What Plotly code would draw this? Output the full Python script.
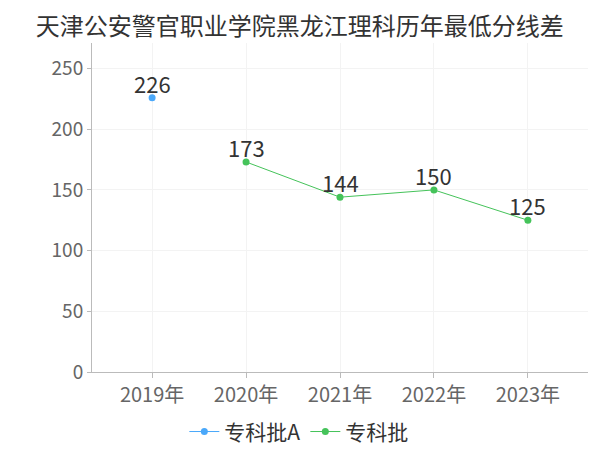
import plotly.graph_objects as go

years = ["2019年", "2020年", "2021年", "2022年", "2023年"]
series_a_name = "专科批A"
series_a_x = ["2019年"]
series_a_y = [226]
series_b_name = "专科批"
series_b_x = ["2020年", "2021年", "2022年", "2023年"]
series_b_y = [173, 144, 150, 125]
title = "天津公安警官职业学院黑龙江理科历年最低分线差"

font_family = "Noto Sans CJK SC, Noto Sans, sans-serif"
blue = "#4aa8fa"
green = "#45c35a"

fig = go.Figure()
fig.add_trace(go.Scatter(
    x=series_a_x, y=series_a_y, name=series_a_name, mode="lines+markers",
    line=dict(color=blue, width=1), marker=dict(size=7, color=blue),
))
fig.add_trace(go.Scatter(
    x=series_b_x, y=series_b_y, name=series_b_name, mode="lines+markers",
    line=dict(color=green, width=1), marker=dict(size=7, color=green),
))

for xs, ys in ((series_a_x, series_a_y), (series_b_x, series_b_y)):
    for xv, yv in zip(xs, ys):
        fig.add_annotation(x=xv, y=yv, text=str(yv), showarrow=False,
                           xanchor="center", yanchor="middle", yshift=15,
                           font=dict(size=22, color="#333333", family=font_family))

fig.update_layout(
    width=592, height=442,
    margin=dict(l=84, r=12, t=35, b=78, autoexpand=False),
    paper_bgcolor="white", plot_bgcolor="white",
    font=dict(family=font_family, color="#666666"),
    title=dict(text=title, x=0.493, xanchor="center", y=0.958, yanchor="middle",
               font=dict(size=24, color="#333333", family=font_family)),
    showlegend=True,
    legend=dict(orientation="h", x=0.417, xanchor="center", y=-0.182, yanchor="middle",
                font=dict(size=21, color="#333333"), itemwidth=30,
                tracegroupgap=0),
)
fig.update_xaxes(
    type="category", categoryorder="array", categoryarray=years,
    range=[-0.64, 4.64],
    showgrid=True, gridcolor="#f3f3f3", gridwidth=1,
    showline=True, linecolor="#bbbbbb", linewidth=1,
    ticks="outside", ticklen=5, tickcolor="#bbbbbb",
    tickfont=dict(size=20, color="#666666"),
)
fig.update_yaxes(
    range=[0, 271], tickvals=[0, 50, 100, 150, 200, 250],
    showgrid=True, gridcolor="#f3f3f3", gridwidth=1, zeroline=False,
    showline=True, linecolor="#bbbbbb", linewidth=1,
    ticks="outside", ticklen=4, tickcolor="#bbbbbb",
    tickfont=dict(size=19, color="#666666"),
)

fig.write_html("out.html")
